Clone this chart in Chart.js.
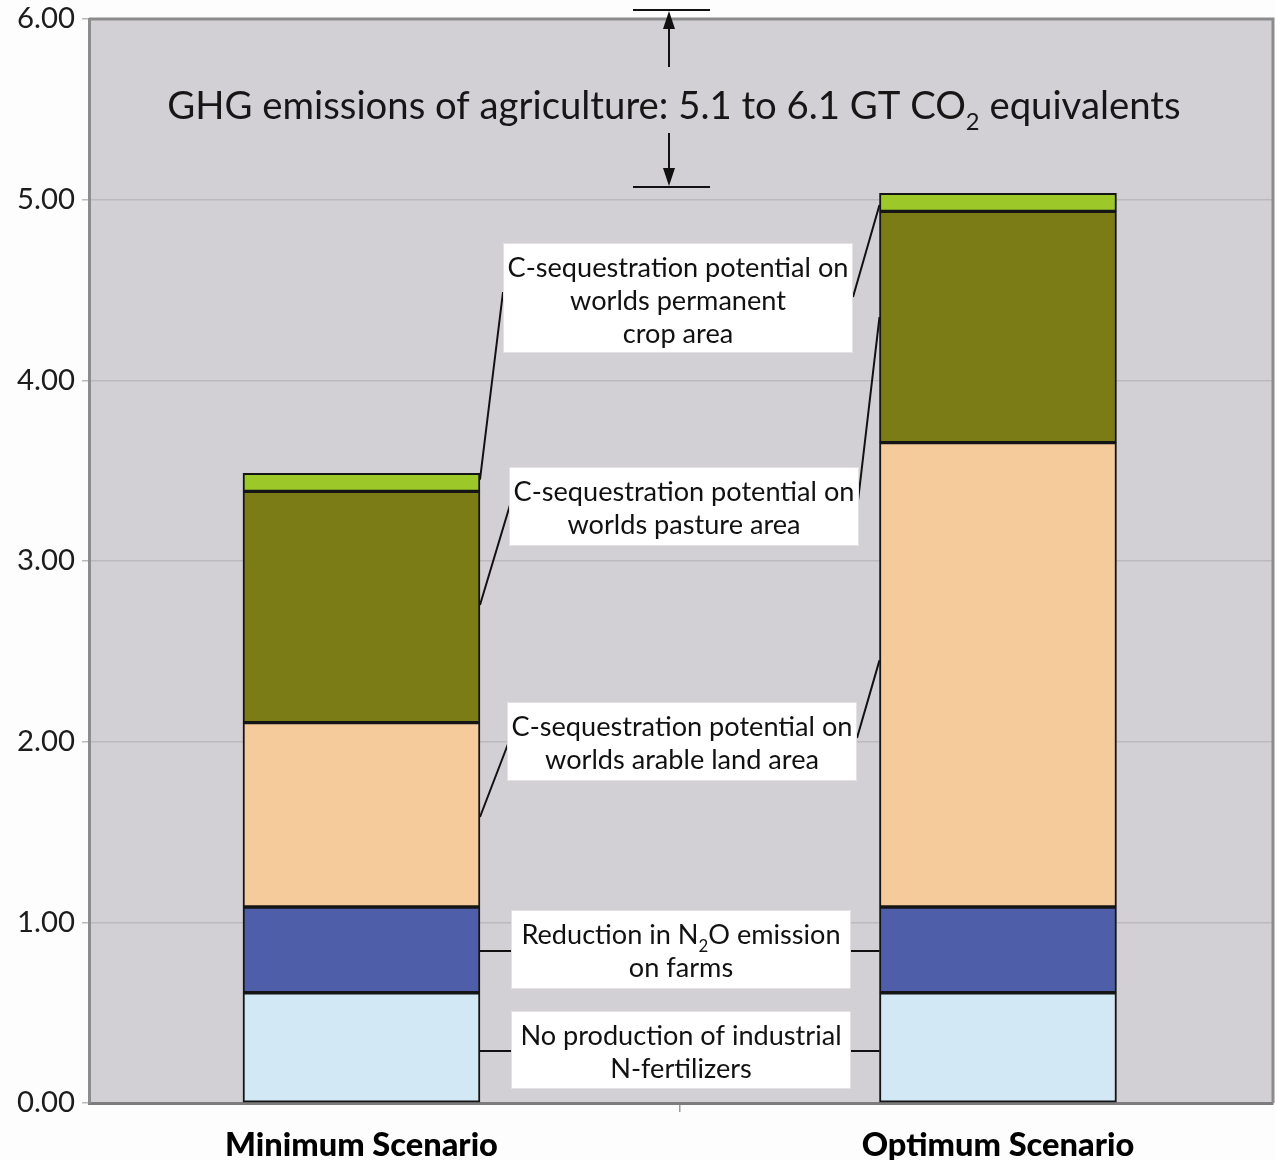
<!DOCTYPE html>
<html><head><meta charset="utf-8">
<script src="https://cdn.jsdelivr.net/npm/chart.js@4.4.1/dist/chart.umd.min.js"></script>
<style>html,body{margin:0;padding:0;background:#fdfdfd;}#wrap{width:1275px;height:1160px;}</style>
</head><body><div id="wrap"><canvas id="c" width="1275" height="1160"></canvas></div>
<script>
// ---- data ----
const categories = ['Minimum Scenario', 'Optimum Scenario'];
const noFertilizer = [0.61, 0.61];
const n2oReduction = [0.475, 0.475];
const arableLand = [1.02, 2.57];
const pastureArea = [1.28, 1.28];
const permanentCrop = [0.10, 0.10];
const yTicks = [0, 1, 2, 3, 4, 5, 6];
const emissionRange = [5.07, 6.05];
const seriesLabels = ['No production of industrial N-fertilizers', 'Reduction in N2O emission on farms',
  'C-sequestration potential on worlds arable land area', 'C-sequestration potential on worlds pasture area',
  'C-sequestration potential on worlds permanent crop area'];

const X_MIN = -0.4281, X_MAX = 1.4321;
const FAM = 'Lato, "Open Sans", sans-serif';
const mc = document.createElement('canvas').getContext('2d');
function fit(text, weight, target) { mc.font = weight + ' 100px ' + FAM; return 100 * target / mc.measureText(text).width; }
const xLabelSize = fit('Minimum Scenario', '900', 273);
const yLabelSize = fit('6.00', 'normal', 58);
const boxSize = fit('C-sequestration potential on', 'normal', 341);
const titleSize = fit('GHG emissions of agriculture: 5.1 to 6.1 GT CO equivalents', 'normal', 1000);

function ds(label, arr, color) {
  return { label, data: categories.map((c, i) => ({ x: i, y: arr[i] })), backgroundColor: color,
    borderColor: '#151515', borderWidth: 2, borderSkipped: false, barThickness: 237 };
}

function drawRich(ctx, segs, cx, base, size) {
  const parts = segs.map(s => { const sz = s.sub ? size * 0.62 : size; ctx.font = sz + 'px ' + FAM; return { t: s.t, sub: s.sub, sz, w: ctx.measureText(s.t).width }; });
  const tw = parts.reduce((a, p) => a + p.w, 0);
  let x = cx - tw / 2;
  ctx.textAlign = 'left'; ctx.textBaseline = 'alphabetic';
  parts.forEach(p => { ctx.font = p.sz + 'px ' + FAM; ctx.fillText(p.t, x, p.sub ? base + size * 0.3 : base); x += p.w; });
}

const boxes = [
  { x: 503, y: 243, w: 350, h: 110, lines: [[{ t: 'C-sequestration potential on' }], [{ t: 'worlds permanent' }], [{ t: 'crop area' }]],
    l: [503, 292, 3.45], r: [853, 297, 4.97] },
  { x: 509, y: 467, w: 350, h: 79, lines: [[{ t: 'C-sequestration potential on' }], [{ t: 'worlds pasture area' }]],
    l: [510, 505, 2.756], r: [858, 501, 4.35] },
  { x: 507, y: 702, w: 350, h: 79, lines: [[{ t: 'C-sequestration potential on' }], [{ t: 'worlds arable land area' }]],
    l: [508, 744, 1.583], r: [857, 738, 2.45] },
  { x: 511, y: 910, w: 340, h: 79, lines: [[{ t: 'Reduction in N' }, { t: '2', sub: true }, { t: 'O emission' }], [{ t: 'on farms' }]],
    l: [511, 951, 0.841], r: [851, 951, 0.841] },
  { x: 511, y: 1011, w: 340, h: 78, lines: [[{ t: 'No production of industrial' }], [{ t: 'N-fertilizers' }]],
    l: [511, 1051, 0.288], r: [851, 1051, 0.288] }
];

const annot = {
  id: 'annot',
  beforeDraw(chart) {
    const { ctx, chartArea: a } = chart;
    ctx.save();
    ctx.fillStyle = '#fdfdfd'; ctx.fillRect(0, 0, chart.width, chart.height);
    ctx.fillStyle = '#d3d0d5'; ctx.fillRect(a.left, a.top, a.right - a.left, a.bottom - a.top);
    ctx.restore();
  },
  afterDatasetsDraw(chart) {
    const { ctx, chartArea: a, scales: { y } } = chart;
    const bars = chart.getDatasetMeta(0).data;
    const minRight = bars[0].x + bars[0].width / 2;
    const optLeft = bars[1].x - bars[1].width / 2;
    ctx.save();
    ctx.strokeStyle = '#8c8c8c'; ctx.lineWidth = 3;
    ctx.beginPath(); ctx.moveTo(a.left, a.top); ctx.lineTo(a.right, a.top); ctx.lineTo(a.right, a.bottom); ctx.stroke();
    boxes.forEach(b => {
      ctx.strokeStyle = '#111'; ctx.lineWidth = 2;
      ctx.beginPath();
      ctx.moveTo(b.l[0], b.l[1]); ctx.lineTo(minRight, y.getPixelForValue(b.l[2]));
      ctx.moveTo(b.r[0], b.r[1]); ctx.lineTo(optLeft, y.getPixelForValue(b.r[2]));
      ctx.stroke();
      ctx.fillStyle = '#ffffff'; ctx.fillRect(b.x, b.y, b.w, b.h);
      ctx.strokeStyle = '#e2e2e2'; ctx.lineWidth = 1; ctx.strokeRect(b.x + 0.5, b.y + 0.5, b.w - 1, b.h - 1);
      ctx.fillStyle = '#111';
      b.lines.forEach((ln, i) => drawRich(ctx, ln, b.x + b.w / 2, b.y + 34 + i * 33, boxSize));
    });
    const yTop = y.getPixelForValue(emissionRange[1]);
    const yBot = y.getPixelForValue(emissionRange[0]);
    const ax = 669;
    ctx.strokeStyle = '#111'; ctx.fillStyle = '#111'; ctx.lineWidth = 2;
    ctx.beginPath();
    ctx.moveTo(633, yTop); ctx.lineTo(710, yTop);
    ctx.moveTo(633, yBot); ctx.lineTo(710, yBot);
    ctx.moveTo(ax, yTop + 16); ctx.lineTo(ax, 67);
    ctx.moveTo(ax, 133); ctx.lineTo(ax, yBot - 16);
    ctx.stroke();
    ctx.beginPath(); ctx.moveTo(ax, yTop + 1); ctx.lineTo(ax - 6, yTop + 19); ctx.lineTo(ax + 6, yTop + 19); ctx.closePath(); ctx.fill();
    ctx.beginPath(); ctx.moveTo(ax, yBot - 1); ctx.lineTo(ax - 6, yBot - 19); ctx.lineTo(ax + 6, yBot - 19); ctx.closePath(); ctx.fill();
    ctx.fillStyle = '#161616';
    drawRich(ctx, [{ t: 'GHG emissions of agriculture: 5.1 to 6.1 GT CO' }, { t: '2', sub: true }, { t: ' equivalents' }], 674, 119, titleSize);
    ctx.restore();
  }
};

new Chart(document.getElementById('c'), {
  type: 'bar',
  data: {
    datasets: [
      ds(seriesLabels[0], noFertilizer, '#d2e8f4'),
      ds(seriesLabels[1], n2oReduction, '#4f5ea8'),
      ds(seriesLabels[2], arableLand, '#f5cb9b'),
      ds(seriesLabels[3], pastureArea, '#7b7c15'),
      ds(seriesLabels[4], permanentCrop, '#9cc82a')
    ]
  },
  plugins: [annot],
  options: {
    responsive: false, animation: false, devicePixelRatio: 1,
    layout: { padding: { top: 19, right: 2, left: 0, bottom: 0 } },
    plugins: { legend: { display: false }, title: { display: false }, tooltip: { enabled: false } },
    scales: {
      x: {
        type: 'linear', min: X_MIN, max: X_MAX, stacked: true, offset: false, bounds: 'data', grace: 0,
        afterDataLimits: s => { s.min = X_MIN; s.max = X_MAX; },
        afterBuildTicks: s => { s.ticks = [0, 0.5, 1].map(v => ({ value: v })); s.min = X_MIN; s.max = X_MAX; },
        afterFit: s => { s.height = 57; s.paddingLeft = 0; s.paddingRight = 0; },
        ticks: { callback: v => Number.isInteger(v) ? categories[v] : '', color: '#000', padding: 14, maxRotation: 0, autoSkip: false,
          font: { family: FAM, weight: '900', size: xLabelSize } },
        grid: { offset: false, drawOnChartArea: false, drawTicks: true, tickLength: 9, lineWidth: 1.5,
          color: c => (c.tick && c.tick.value === 0.5) ? '#9a9a9a' : 'rgba(0,0,0,0)' },
        border: { color: '#7c7c7c', width: 3 }
      },
      y: {
        min: 0, max: 6, stacked: true,
        afterBuildTicks: s => { s.ticks = yTicks.map(v => ({ value: v })); },
        afterFit: s => { s.width = 89; s.paddingTop = 0; s.paddingBottom = 0; },
        ticks: { callback: v => Number(v).toFixed(2), color: '#1c1c1c', padding: 7, font: { family: FAM, size: yLabelSize } },
        grid: { color: '#bbb9bd', lineWidth: 1.5, tickLength: 7 },
        border: { color: '#8c8c8c', width: 3 }
      }
    }
  }
});
</script></body></html>
